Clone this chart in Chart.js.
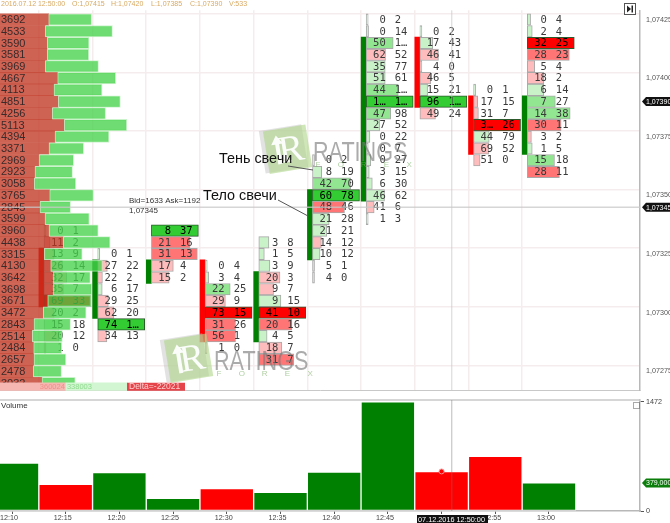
<!DOCTYPE html>
<html lang="ru">
<head>
    <meta charset="UTF-8">
    <title>Footprint</title>
    <style>
        html, body { margin: 0; padding: 0; background: #ffffff; overflow: hidden; }
        canvas { position: absolute; left: 0; }
        #priceChart { top: 0; }
        #volumeChart { top: 390px; }
    </style>
    <script src="https://cdn.jsdelivr.net/npm/chart.js"></script>
</head>
<body>
    <canvas id="priceChart" width="670" height="401"></canvas>
    <canvas id="volumeChart" width="670" height="133"></canvas>

    <script>
        // Data
        var timeLabels = ['12:10', '12:15', '12:20', '12:25', '12:30', '12:35', '12:40', '12:45', '12:50', '12:55', '13:00'];
        var volumes = [646, 361, 519, 172, 303, 253, 524, 1472, 533, 736, 379];
        var volumeUp = [1, 0, 1, 1, 0, 1, 1, 1, 0, 0, 1];
        var markerTimes = [8];
        var markerValues = [533];

        var priceTicks = [1.07425, 1.074, 1.07375, 1.0735, 1.07325, 1.073, 1.07275];
        var rowStep = 0.00005;
        var lastClose = 1.0739;
        var crossPrice = 1.07345;
        var crossTime = 8.19;
        var lastVolume = 379;

        // volume profile, top row first
        var profilePriceTop = 1.07425;
        var profileTotal = [3692, 4533, 3590, 3581, 3969, 4667, 4113, 4851, 4256, 5113, 4394, 3371, 2969, 2923, 3058, 3765,
            2845, 3599, 3960, 4438, 3315, 4130, 3642, 3698, 3671, 3472, 2843, 2514, 2484, 2657, 2478, 3032];
        var profileSell = [1962, 1828, 1909, 1909, 1828, 2325, 2177, 2352, 2110, 2594, 2218, 1976, 1573, 1411, 1384, 2003,
            1613, 1815, 1976, 2554, 1788, 2043, 2137, 2137, 1922, 1747, 1371, 1304, 1358, 1371, 1344, 1694];

        // footprint candles 12:15 .. 13:00
        var footIndex = [1, 2, 3, 4, 5, 6, 7, 8, 9, 10];
        var footTop = [1.07335, 1.07325, 1.07335, 1.0732, 1.0733, 1.07365, 1.07425, 1.0742, 1.07395, 1.07425];
        var footOpen = [1.07325, 1.073, 1.07315, 1.0732, 1.0729, 1.07325, 1.0735, 1.07415, 1.0739, 1.0737];
        var footClose = [1.07305, 1.0732, 1.0732, 1.0729, 1.07315, 1.0735, 1.07415, 1.0739, 1.0737, 1.0739];
        var footBid = [
            [0, 11, 13, 26, 32, 35, 69, 20, 15, 20, 1],
            [0, 27, 22, 6, 29, 62, 74, 34],
            [8, 21, 31, 17, 15],
            [0, 3, 22, 29, 73, 31, 56, 1],
            [3, 1, 3, 20, 9, 9, 41, 20, 4, 18, 31],
            [0, 8, 42, 60, 48, 21, 21, 14, 10, 5, 4],
            [0, 0, 50, 62, 35, 51, 44, 138, 47, 27, 0, 0, 0, 3, 6, 46, 41, 1],
            [0, 17, 46, 4, 46, 15, 96, 49],
            [0, 17, 31, 344, 44, 69, 51],
            [0, 2, 32, 28, 5, 18, 6, 7, 14, 30, 3, 1, 15, 28]
        ];
        var footAsk = [
            [1, 2, 9, 14, 17, 7, 33, 2, 18, 12, 0],
            [1, 22, 2, 17, 25, 20, 165, 13],
            [37, 16, 13, 4, 2],
            [4, 4, 25, 9, 15, 26, 1, 0],
            [8, 5, 9, 3, 7, 15, 10, 16, 5, 7, 7],
            [2, 19, 70, 78, 46, 28, 21, 12, 12, 1, 0],
            [2, 14, 109, 52, 77, 61, 145, 139, 98, 52, 22, 7, 27, 15, 30, 62, 6, 3],
            [2, 43, 41, 0, 5, 21, 124, 24],
            [1, 15, 7, 26, 79, 52, 0],
            [4, 4, 25, 23, 4, 2, 14, 27, 38, 11, 2, 5, 18, 11]
        ];

        var footerSell = 360024;
        var footerBuy = 338003;
        var footerPrice = 1.072684;
        var deltaText = 'Delta=-22021';
        var headerTexts = ['2016.07.12 12:50:00', 'O:1,07415', 'H:1,07420', 'L:1,07385', 'C:1,07390', 'V:533'];

        // x scale: candle number, same on both charts
        var xMin = -0.2235;
        var xMax = 11.695;
        var gridSlots = [0.5, 1.5, 2.5, 3.5, 4.5, 5.5, 6.5, 7.5, 8.5, 9.5];

        function comma(v, n) {
            return v.toFixed(n).replace('.', ',');
        }
        function shortNum(v) {
            return v >= 100 ? String(v).charAt(0) + '\u2026' : String(v);
        }

        // build the footprint cells from the arrays
        var cellRows = [];
        var bodyRows = [];
        footIndex.forEach(function (idx, c) {
            var totals = footBid[c].map(function (b, r) { return b + footAsk[c][r]; });
            var maxTotal = Math.max.apply(null, totals);
            var left = idx - 0.404;
            footBid[c].forEach(function (b, r) {
                cellRows.push({
                    x: [left, left + totals[r] / maxTotal * 0.875],
                    y: footTop[c] - r * rowStep,
                    bid: b,
                    ask: footAsk[c][r],
                    ratio: totals[r] / maxTotal,
                    idx: idx
                });
            });
            bodyRows.push({
                x: idx - 0.452,
                y: [Math.min(footOpen[c], footClose[c]) - rowStep / 2, Math.max(footOpen[c], footClose[c]) + rowStep / 2],
                up: footClose[c] > footOpen[c]
            });
        });

        function cellFill(ctx) {
            var r = ctx.raw;
            var up = r.ask >= r.bid;
            if (r.ratio >= 0.999) return up ? '#33cc33' : '#ff0000';
            if (r.ratio >= 0.5) return up ? '#92e692' : '#ff7474';
            return up ? '#c9f2c9' : '#ffbcbc';
        }
        function cellEdge(ctx) {
            return ctx.raw.ratio >= 0.999 ? '#2d5a2d' : '#a9a9a9';
        }

        var profileRows = profileTotal.map(function (t, i) {
            return { sell: profileSell[i], total: t, y: profilePriceTop - i * rowStep };
        });

        function pathTag(ctx, x, y, w, h) {
            ctx.beginPath();
            ctx.moveTo(x, y);
            ctx.lineTo(x + 4, y - h / 2);
            ctx.lineTo(x + w, y - h / 2);
            ctx.lineTo(x + w, y + h / 2);
            ctx.lineTo(x + 4, y + h / 2);
            ctx.closePath();
        }
        function priceTag(ctx, x, y, text, bg) {
            ctx.save();
            pathTag(ctx, x, y, 670 - x, 9);
            ctx.fillStyle = bg;
            ctx.fill();
            ctx.fillStyle = '#ffffff';
            ctx.font = '7px "Liberation Sans"';
            ctx.textAlign = 'left';
            ctx.textBaseline = 'middle';
            ctx.fillText(text, x + 4, y + 0.5);
            ctx.restore();
        }

        function drawLogo(ctx, ox, oy) {
            // ox, oy: middle of the square emblem
            ctx.save();
            ctx.translate(ox, oy);
            ctx.rotate(-0.16);
            ctx.fillStyle = 'rgba(190,190,190,0.45)';
            ctx.fillRect(-24, -22, 43, 43);
            ctx.fillStyle = 'rgba(176,214,140,0.62)';
            ctx.fillRect(-20, -21, 43, 43);
            ctx.fillStyle = 'rgba(255,255,255,0.95)';
            ctx.font = '38px "Liberation Serif"';
            ctx.textAlign = 'center';
            ctx.textBaseline = 'middle';
            ctx.fillText('R', 5, 3);
            ctx.beginPath();
            ctx.moveTo(-8, -15);
            ctx.lineTo(-14, -6);
            ctx.lineTo(-10, -6);
            ctx.lineTo(-10, 14);
            ctx.lineTo(-6, 14);
            ctx.lineTo(-6, -6);
            ctx.lineTo(-2, -6);
            ctx.closePath();
            ctx.fill();
            ctx.restore();

            ctx.save();
            ctx.translate(ox + 27, oy + 9);
            ctx.scale(0.8, 1);
            ctx.fillStyle = 'rgba(120,120,120,0.62)';
            ctx.font = '27px "Liberation Sans"';
            ctx.textAlign = 'left';
            ctx.textBaseline = 'alphabetic';
            ctx.fillText('RATINGS', 0, 3);
            ctx.restore();

            ctx.save();
            ctx.fillStyle = 'rgba(120,175,100,0.6)';
            ctx.font = '8px "Liberation Sans"';
            ctx.textAlign = 'center';
            ctx.textBaseline = 'middle';
            'FOREX'.split('').forEach(function (ch, i) {
                ctx.fillText(ch, ox + 32 + i * 22.8, oy + 16);
            });
            ctx.restore();
        }

        var priceLayers = {
            id: 'priceLayers',
            afterDatasetDraw: function (chart, args) {
                var ctx = chart.ctx;
                var label = chart.data.datasets[args.index].label;
                var xs = chart.scales.x;
                var ys = chart.scales.y;
                if (label === 'Footprint') {
                    ctx.save();
                    ctx.font = '10.5px "DejaVu Sans Mono"';
                    ctx.textBaseline = 'middle';
                    cellRows.forEach(function (row) {
                        var py = ys.getPixelForValue(row.y) + 0.5;
                        ctx.fillStyle = row.ratio >= 0.999 ? '#000000' : '#3a3a3a';
                        ctx.textAlign = 'right';
                        ctx.fillText(shortNum(row.bid), xs.getPixelForValue(row.idx - 0.04), py);
                        ctx.textAlign = 'left';
                        ctx.fillText(shortNum(row.ask), xs.getPixelForValue(row.idx + 0.128), py);
                    });
                    ctx.restore();
                }
                if (label === 'Buy') {
                    ctx.save();
                    ctx.font = '11px "Liberation Sans"';
                    ctx.fillStyle = '#3a2a2a';
                    ctx.textBaseline = 'middle';
                    ctx.textAlign = 'left';
                    profileRows.forEach(function (row) {
                        ctx.fillText(String(row.total), 1, ys.getPixelForValue(row.y) + 0.5);
                    });
                    ctx.restore();
                }
            },
            afterDraw: function (chart) {
                var ctx = chart.ctx;
                var xs = chart.scales.x;
                var ys = chart.scales.y;
                var area = chart.chartArea;

                // header
                ctx.save();
                ctx.fillStyle = '#ffffff';
                ctx.fillRect(0, 0, 258, 8);
                ctx.fillStyle = '#d9aa62';
                ctx.font = '7px "Liberation Sans"';
                ctx.textBaseline = 'middle';
                var headX = [1, 72, 111, 151, 190, 229];
                headerTexts.forEach(function (t, i) { ctx.fillText(t, headX[i], 4); });
                ctx.restore();

                // crosshair
                var cy = ys.getPixelForValue(crossPrice);
                var cx = xs.getPixelForValue(crossTime);
                ctx.save();
                ctx.strokeStyle = 'rgba(200,200,200,0.75)';
                ctx.lineWidth = 1.5;
                ctx.beginPath();
                ctx.moveTo(area.left, cy);
                ctx.lineTo(area.right, cy);
                ctx.stroke();
                ctx.lineWidth = 1;
                ctx.beginPath();
                ctx.moveTo(cx, area.top);
                ctx.lineTo(cx, area.bottom);
                ctx.stroke();
                ctx.restore();

                // footer totals
                var footY = ys.getPixelForValue(footerPrice);
                ctx.save();
                ctx.font = '7.5px "Liberation Sans"';
                ctx.textBaseline = 'middle';
                ctx.fillStyle = '#ef8f8a';
                ctx.textAlign = 'right';
                ctx.fillText(String(footerSell), chart.scales.xs.getPixelForValue(footerSell) - 1, footY);
                ctx.fillStyle = '#8fdc8f';
                ctx.textAlign = 'left';
                ctx.fillText(String(footerBuy), chart.scales.xs.getPixelForValue(footerSell) + 1, footY);
                ctx.fillStyle = '#e4444a';
                ctx.fillRect(127, footY - 4, 58, 8);
                ctx.fillStyle = '#ffd0d0';
                ctx.font = '8.5px "Liberation Sans"';
                ctx.fillText(deltaText, 129, footY);
                ctx.restore();

                // crosshair read-out
                ctx.save();
                ctx.fillStyle = '#333333';
                ctx.font = '8px "Liberation Sans"';
                ctx.textBaseline = 'middle';
                ctx.fillText('Bid=1633 Ask=1192', 129, 201);
                ctx.fillText(comma(crossPrice, 5), 129, 211);
                ctx.restore();

                drawLogo(ctx, 286, 149);
                drawLogo(ctx, 187, 358);

                // notes with leader lines
                ctx.save();
                ctx.fillStyle = '#111111';
                ctx.font = '14.4px "Liberation Sans"';
                ctx.textBaseline = 'middle';
                ctx.fillText('Тень свечи', 219, 159);
                ctx.fillText('Тело свечи', 203, 196);
                ctx.strokeStyle = '#555555';
                ctx.lineWidth = 1;
                ctx.beginPath();
                ctx.moveTo(288, 166);
                ctx.lineTo(313, 170);
                ctx.moveTo(278, 200);
                ctx.lineTo(308, 216);
                ctx.stroke();
                ctx.restore();

                // end-of-chart button
                ctx.save();
                ctx.fillStyle = '#ffffff';
                ctx.strokeStyle = '#555555';
                ctx.fillRect(624.5, 3.5, 11, 11);
                ctx.strokeRect(624.5, 3.5, 11, 11);
                ctx.fillStyle = '#222222';
                ctx.beginPath();
                ctx.moveTo(627, 5.5);
                ctx.lineTo(631, 9);
                ctx.lineTo(627, 12.5);
                ctx.closePath();
                ctx.fill();
                ctx.fillRect(631.5, 5.5, 1.5, 7);
                ctx.restore();

                priceTag(ctx, 642, ys.getPixelForValue(lastClose), comma(lastClose, 5), '#111111');
                priceTag(ctx, 642, cy, comma(crossPrice, 5), '#111111');
            }
        };

        var volumeLayers = {
            id: 'volumeLayers',
            afterDraw: function (chart) {
                var ctx = chart.ctx;
                var xs = chart.scales.x;
                var ys = chart.scales.y;
                var area = chart.chartArea;

                ctx.save();
                ctx.fillStyle = '#333333';
                ctx.font = '8px "Liberation Sans"';
                ctx.textBaseline = 'middle';
                ctx.fillText('Volume', 1, area.top + 6);

                // top border of the pane
                ctx.strokeStyle = '#c8c8c8';
                ctx.lineWidth = 1.5;
                ctx.beginPath();
                ctx.moveTo(area.left, area.top);
                ctx.lineTo(area.right, area.top);
                ctx.stroke();

                // crosshair
                var cx = xs.getPixelForValue(crossTime);
                ctx.strokeStyle = 'rgba(120,120,120,0.5)';
                ctx.lineWidth = 1;
                ctx.beginPath();
                ctx.moveTo(cx, area.top);
                ctx.lineTo(cx, area.bottom);
                ctx.stroke();

                // time under the crosshair
                ctx.fillStyle = '#111111';
                ctx.fillRect(417, area.bottom + 4, 71, 8);
                ctx.fillStyle = '#ffffff';
                ctx.font = '7.3px "Liberation Sans"';
                ctx.fillText('07.12.2016 12:50:00', 418, area.bottom + 8.5);

                // pane button
                ctx.strokeStyle = '#555555';
                ctx.setLineDash([1, 1]);
                ctx.strokeRect(633.5, area.top + 2.5, 6, 6);
                ctx.restore();

                priceTag(ctx, 642, ys.getPixelForValue(lastVolume), comma(lastVolume, 3), '#0a7d0a');
            }
        };

        function fixedWidth(w) { return function (scale) { scale.width = w; }; }
        function fixedHeight(h) { return function (scale) { scale.height = h; }; }
        function useTicks(values) {
            return function (scale) {
                scale.ticks = values.map(function (v) { return { value: v }; });
            };
        }

        var priceMax = 1.07425 + 9.7 / 12.33 * rowStep;
        var priceMin = 1.07425 - (400 - 9.7) / 12.33 * rowStep;
        var hiddenX = { type: 'linear', display: false, offset: false, grid: { offset: false } };

        var priceChart = new Chart(document.getElementById('priceChart'), {
            type: 'bar',
            data: {
                datasets: [
                    {
                        label: 'Footprint', indexAxis: 'y', order: 5, xAxisID: 'x', yAxisID: 'y',
                        data: cellRows, barThickness: 11.5, borderWidth: 1, borderSkipped: false, minBarLength: 2,
                        backgroundColor: cellFill, borderColor: cellEdge
                    },
                    {
                        label: 'Candles', indexAxis: 'x', order: 6, xAxisID: 'x', yAxisID: 'y',
                        data: bodyRows, barThickness: 5, borderWidth: 0,
                        backgroundColor: function (ctx) { return ctx.raw.up ? '#008000' : '#ff0000'; }
                    },
                    {
                        label: 'Sell', indexAxis: 'y', order: 3, xAxisID: 'xp', yAxisID: 'y',
                        data: profileRows.map(function (r) { return { x: [0, r.sell], y: r.y }; }),
                        barThickness: 11.5, borderWidth: 0, backgroundColor: 'rgba(190,50,30,0.76)'
                    },
                    {
                        label: 'Buy', indexAxis: 'y', order: 2, xAxisID: 'xp', yAxisID: 'y',
                        data: profileRows.map(function (r) { return { x: [r.sell, r.total], y: r.y }; }),
                        barThickness: 11.5, borderWidth: 1, borderSkipped: false,
                        backgroundColor: 'rgba(70,210,75,0.78)', borderColor: 'rgba(190,240,190,0.8)'
                    },
                    {
                        label: 'Footer', indexAxis: 'y', order: 1, xAxisID: 'xs', yAxisID: 'y',
                        data: [
                            { x: [0, footerSell], y: footerPrice },
                            { x: [footerSell, footerSell + footerBuy], y: footerPrice }
                        ],
                        barThickness: 8, borderWidth: 0, backgroundColor: ['#f6b6b1', '#d2f5d2']
                    }
                ]
            },
            options: {
                responsive: false,
                animation: false,
                grouped: false,
                layout: { padding: { bottom: 1 }, autoPadding: false },
                plugins: { legend: { display: false }, tooltip: { enabled: false } },
                scales: {
                    x: {
                        type: 'linear', min: xMin, max: xMax, offset: false,
                        afterBuildTicks: useTicks(gridSlots), afterFit: fixedHeight(0),
                        ticks: { display: false },
                        grid: { offset: false, color: '#f5ecee', lineWidth: 1.5, drawTicks: false },
                        border: { color: '#c8c8c8', width: 1 }
                    },
                    xp: Object.assign({ min: 0, max: 25806 }, hiddenX),
                    xs: Object.assign({ min: 0, max: 640 / 0.000183 }, hiddenX),
                    y: {
                        type: 'linear', position: 'right', min: priceMin, max: priceMax, offset: false,
                        afterBuildTicks: useTicks(priceTicks), afterFit: fixedWidth(30),
                        ticks: {
                            padding: 6, autoSkip: false, color: '#555555', font: { family: 'Liberation Sans', size: 7.2 },
                            callback: function (v) { return comma(v, 5); }
                        },
                        grid: { display: false, offset: false, drawTicks: false },
                        border: { color: '#b8b8b8', width: 1.5 }
                    },
                    yGrid: {
                        type: 'linear', position: 'right', axis: 'y', min: priceMin, max: priceMax, offset: false,
                        afterBuildTicks: useTicks(priceTicks.map(function (p) { return p + rowStep / 2; })),
                        afterFit: fixedWidth(0),
                        ticks: { display: false },
                        grid: { color: '#f5ecee', lineWidth: 1.5, drawTicks: false },
                        border: { display: false }
                    }
                }
            },
            plugins: [priceLayers]
        });

        var volumeChart = new Chart(document.getElementById('volumeChart'), {
            type: 'bar',
            data: {
                datasets: [
                    {
                        type: 'scatter', label: 'Marker', order: 0, xAxisID: 'x', yAxisID: 'y',
                        data: markerTimes.map(function (t, i) { return { x: t, y: markerValues[i] }; }),
                        pointRadius: 2.5, pointBorderWidth: 1, pointBorderColor: '#ff9090', pointBackgroundColor: '#ff0000'
                    },
                    {
                        label: 'Volume', order: 1, xAxisID: 'x', yAxisID: 'y',
                        data: volumes.map(function (v, i) { return { x: i, y: v }; }),
                        barPercentage: 1, categoryPercentage: 1, borderWidth: 1, borderSkipped: false,
                        backgroundColor: volumeUp.map(function (u) { return u ? '#008000' : '#ff0000'; }),
                        borderColor: 'rgba(255,255,255,0.65)'
                    }
                ]
            },
            options: {
                responsive: false,
                animation: false,
                layout: { padding: { top: 10 }, autoPadding: false },
                plugins: { legend: { display: false }, tooltip: { enabled: false } },
                scales: {
                    x: {
                        type: 'linear', min: xMin, max: xMax, offset: false,
                        afterBuildTicks: useTicks(timeLabels.map(function (t, i) { return i; })),
                        afterFit: fixedHeight(12),
                        ticks: {
                            autoSkip: false, maxRotation: 0, padding: 0, labelOffset: -3, color: '#444444',
                            font: { family: 'Liberation Sans', size: 7.2 },
                            callback: function (v) { return timeLabels[v]; }
                        },
                        grid: { offset: false, drawOnChartArea: false, tickLength: 3, tickColor: '#555555' },
                        border: { color: '#b8b8b8', width: 1.5 }
                    },
                    y: {
                        type: 'linear', position: 'right', min: 0, max: 1472 * 110.5 / 108.7,
                        afterBuildTicks: useTicks([0, 1472]), afterFit: fixedWidth(30),
                        ticks: {
                            padding: 2, color: '#444444', font: { family: 'Liberation Sans', size: 7.2 },
                            callback: function (v) { return String(v); }
                        },
                        grid: { drawOnChartArea: false, tickLength: 4, tickColor: '#555555' },
                        border: { color: '#b8b8b8', width: 1.5 }
                    }
                }
            },
            plugins: [volumeLayers]
        });
    </script>
</body>
</html>
